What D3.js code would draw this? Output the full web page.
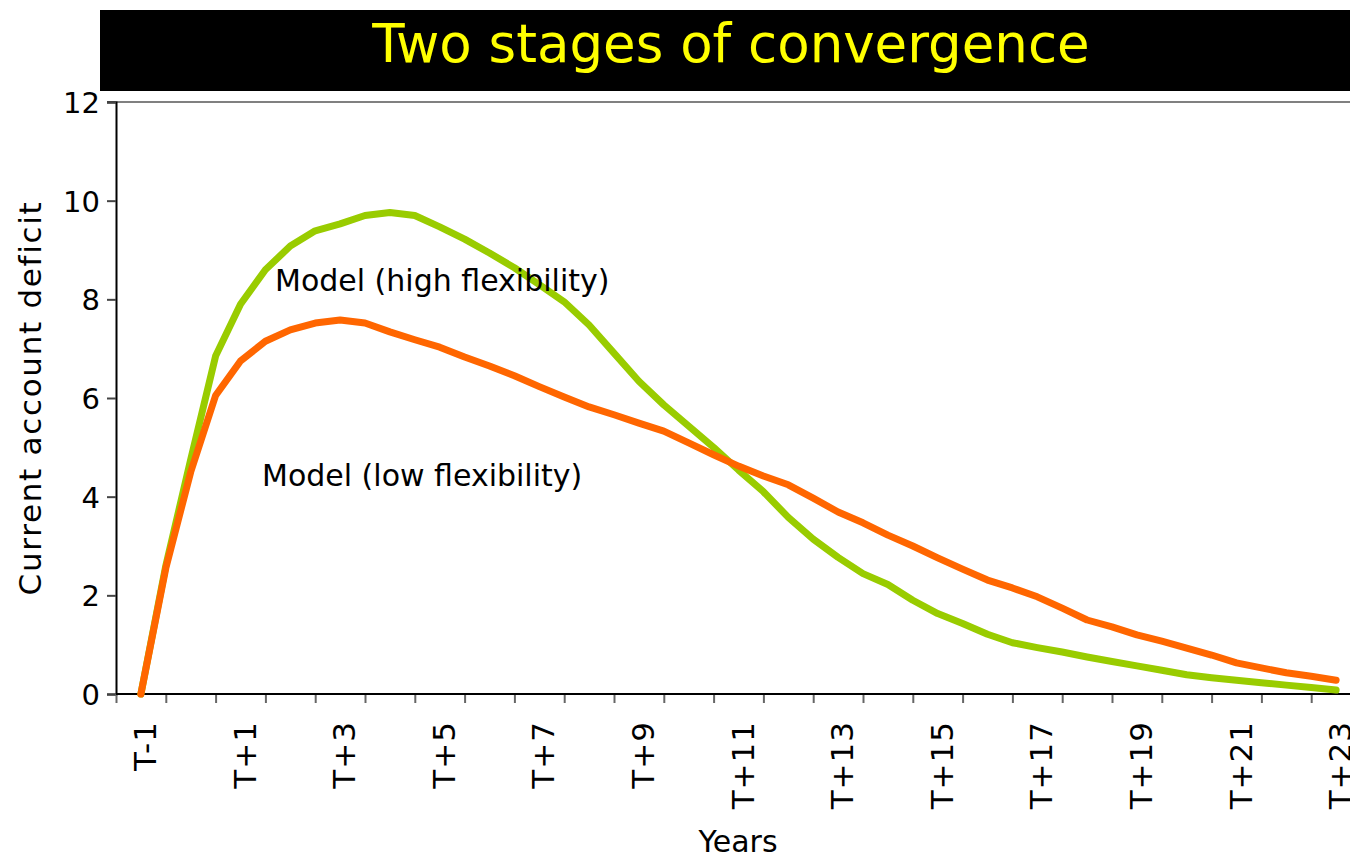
<!DOCTYPE html>
<html>
<head>
<meta charset="utf-8">
<script src="https://cdn.jsdelivr.net/npm/d3@7/dist/d3.min.js"></script>
<style>
  body { margin: 0; background: #fff; }
  svg { display: block; font-family: "DejaVu Sans", Verdana, sans-serif; }
</style>
</head>
<body>
<svg id="chart" width="1350" height="859"></svg>
<script>
let categories = ["T-1", "T", "T+1", "T+2", "T+3", "T+4", "T+5", "T+6", "T+7", "T+8", "T+9", "T+10",
  "T+11", "T+12", "T+13", "T+14", "T+15", "T+16", "T+17", "T+18", "T+19", "T+20", "T+21", "T+22", "T+23"]

// half-year steps, T-1 = -1
let periods = [-1, -0.5, 0, 0.5, 1, 1.5, 2, 2.5, 3, 3.5, 4, 4.5, 5, 5.5, 6, 6.5, 7, 7.5, 8, 8.5,
  9, 9.5, 10, 10.5, 11, 11.5, 12, 12.5, 13, 13.5, 14, 14.5, 15, 15.5, 16, 16.5, 17, 17.5, 18, 18.5,
  19, 19.5, 20, 20.5, 21, 21.5, 22, 22.5, 23]

let highFlex = [0, 2.6, 4.75, 6.85, 7.9, 8.6, 9.08, 9.39, 9.53, 9.7, 9.76, 9.7, 9.47, 9.22, 8.94, 8.64,
  8.3, 7.95, 7.48, 6.91, 6.34, 5.86, 5.43, 5.0, 4.54, 4.1, 3.58, 3.14, 2.77, 2.44, 2.22, 1.9, 1.63,
  1.43, 1.21, 1.04, 0.94, 0.85, 0.75, 0.66, 0.57, 0.48, 0.39, 0.33, 0.28, 0.23, 0.18, 0.13, 0.08]

let lowFlex = [0, 2.55, 4.5, 6.05, 6.75, 7.15, 7.38, 7.52, 7.58, 7.52, 7.34, 7.18, 7.03, 6.83, 6.65, 6.45,
  6.23, 6.02, 5.82, 5.66, 5.49, 5.33, 5.09, 4.85, 4.62, 4.42, 4.24, 3.97, 3.69, 3.47, 3.22, 3.0, 2.76,
  2.53, 2.31, 2.15, 1.97, 1.74, 1.5, 1.36, 1.2, 1.07, 0.93, 0.79, 0.63, 0.53, 0.43, 0.36, 0.28]

let yTicks = [0, 2, 4, 6, 8, 10, 12]

let svg = d3.select("#chart")
let plotLeft = 116, plotBottom = 694, plotTop = 102
let band = 49.8

let x = d3.scaleLinear()
  .domain([-1.5, categories.length - 1.5])
  .range([plotLeft, plotLeft + band * categories.length])
let y = d3.scaleLinear().domain([0, 12]).range([plotBottom, plotTop])

// title bar
svg.append("rect")
  .attr("x", 100).attr("y", 10)
  .attr("width", 1260).attr("height", 81)
  .attr("fill", "#000")
svg.append("text")
  .attr("x", 731).attr("y", 62)
  .attr("text-anchor", "middle")
  .attr("fill", "#ffff00")
  .style("font-size", "53px")
  .text("Two stages of convergence")

// top border of plot area
svg.append("line")
  .attr("x1", plotLeft - 9).attr("x2", 1350)
  .attr("y1", y(12)).attr("y2", y(12))
  .attr("stroke", "#808080").attr("stroke-width", 2)

// y axis
let yAxis = svg.append("g")
  .attr("transform", `translate(${plotLeft},0)`)
  .call(d3.axisLeft(y).tickValues(yTicks).tickSize(9).tickPadding(7).tickFormat(d3.format("d")))
yAxis.select(".domain").attr("stroke", "#000").attr("stroke-width", 2)
yAxis.selectAll(".tick line").attr("stroke", "#444").attr("stroke-width", 2)
yAxis.selectAll(".tick text")
  .attr("fill", "#000")
  .style("font-size", "29px")
  .style("font-family", "DejaVu Sans")
  .attr("dy", "0.36em")

// x axis: category boundaries
let tickPos = d3.range(categories.length + 1).map(i => i - 1.5)
let xAxis = svg.append("g")
  .attr("transform", `translate(0,${plotBottom})`)
  .call(d3.axisBottom(x).tickValues(tickPos).tickSize(9).tickFormat(""))
xAxis.select(".domain").remove()
xAxis.selectAll(".tick line").attr("stroke", "#666").attr("stroke-width", 2)
svg.append("line")
  .attr("x1", plotLeft).attr("x2", 1350)
  .attr("y1", plotBottom).attr("y2", plotBottom)
  .attr("stroke", "#000").attr("stroke-width", 2)

// every other category label, rotated
svg.append("g").selectAll("text")
  .data(categories.filter((c, i) => i % 2 === 0))
  .join("text")
  .attr("transform", d => `translate(${x(categories.indexOf(d) - 1) + 15},721) rotate(-90)`)
  .attr("text-anchor", "end")
  .style("font-size", "31px")
  .style("letter-spacing", "1px")
  .text(d => d)

// axis titles
svg.append("text")
  .attr("transform", "translate(41,398) rotate(-90)")
  .attr("text-anchor", "middle")
  .style("font-size", "31px")
  .style("letter-spacing", "1.7px")
  .text("Current account deficit")
svg.append("text")
  .attr("x", 738).attr("y", 852)
  .attr("text-anchor", "middle")
  .style("font-size", "30px")
  .text("Years")

// lines
let line = d3.line()
  .x((d, i) => x(periods[i]))
  .y(d => y(d))

svg.append("path")
  .datum(highFlex)
  .attr("d", line)
  .attr("fill", "none")
  .attr("stroke", "#99cc00")
  .attr("stroke-width", 7)
  .attr("stroke-linejoin", "round")
  .attr("stroke-linecap", "round")

svg.append("path")
  .datum(lowFlex)
  .attr("d", line)
  .attr("fill", "none")
  .attr("stroke", "#ff6600")
  .attr("stroke-width", 7)
  .attr("stroke-linejoin", "round")
  .attr("stroke-linecap", "round")

// series labels
svg.append("text")
  .attr("x", 275).attr("y", 291)
  .style("font-size", "30px")
  .text("Model (high flexibility)")
svg.append("text")
  .attr("x", 262).attr("y", 486)
  .style("font-size", "30px")
  .text("Model (low flexibility)")
</script>
</body>
</html>
